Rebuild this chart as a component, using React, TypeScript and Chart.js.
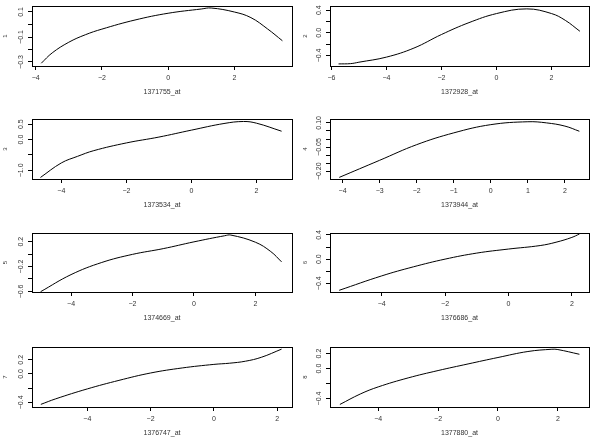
import React, { useEffect, useRef } from 'react';
import { Chart, registerables } from 'chart.js';

Chart.register(...registerables);

// ---------- data ----------
const probeNames = ['1371755_at', '1372928_at', '1373534_at', '1373944_at', '1374669_at', '1376686_at', '1376747_at', '1377880_at'];
const panelLabels = ['1', '2', '3', '4', '5', '6', '7', '8'];

const p1X = [-3.83, -3.5, -3, -2.5, -2, -1, 0, 1, 1.3, 2, 2.5, 3, 3.45];
const p1Y = [-0.31, -0.227, -0.142, -0.082, -0.037, 0.036, 0.09, 0.124, 0.132, 0.1, 0.055, -0.035, -0.13];
const p2X = [-5.74, -5.3, -5, -4, -3, -2, -1, 0, 1.1, 2, 2.5, 3.03];
const p2Y = [-0.55, -0.545, -0.52, -0.43, -0.27, -0.03, 0.18, 0.34, 0.423, 0.34, 0.22, 0.027];
const p3X = [-4.64, -4, -3.5, -3, -2, -1, 0, 1, 1.6, 2, 2.77];
const p3Y = [-1.23, -0.76, -0.545, -0.36, -0.11, 0.08, 0.305, 0.52, 0.585, 0.53, 0.27];
const p4X = [-4.09, -3, -2, -1, 0, 1, 1.5, 2, 2.39];
const p4Y = [-0.238, -0.132, -0.035, 0.038, 0.089, 0.107, 0.1, 0.08, 0.048];
const p5X = [-4.99, -4, -3, -2, -1, 0, 1, 1.2, 2, 2.5, 2.85];
const p5Y = [-0.604, -0.33, -0.135, -0.005, 0.087, 0.196, 0.294, 0.305, 0.19, 0.04, -0.125];
const p6X = [-5.34, -4, -3, -2, -1, 0, 1, 1.5, 2, 2.24];
const p6Y = [-0.517, -0.278, -0.128, 0.0, 0.1, 0.167, 0.225, 0.28, 0.36, 0.417];
const p7X = [-5.47, -5, -4, -3, -2, -1, 0, 0.5, 1, 1.5, 2.14];
const p7Y = [-0.428, -0.35, -0.21, -0.09, 0.014, 0.085, 0.135, 0.152, 0.18, 0.235, 0.35];
const p8X = [-5.28, -4.6, -4, -3, -2, -1, 0, 1, 1.8, 2, 2.72];
const p8Y = [-0.479, -0.34, -0.245, -0.125, -0.027, 0.061, 0.147, 0.227, 0.257, 0.253, 0.19];

// axis limits (x min/max, y min/max)
const xLimits = [[-4.11, 3.74], [-6.05, 3.36], [-4.9, 3.09], [-4.34, 2.65], [-5.27, 3.19], [-5.63, 2.54], [-5.75, 2.47], [-5.61, 3.04]];
const yLimits = [[-0.332, 0.148], [-0.587, 0.474], [-1.28, 0.666], [-0.248, 0.124], [-0.609, 0.338], [-0.545, 0.433], [-0.465, 0.38], [-0.513, 0.287]];

// ticks
const xTickValues = [
  [-4, -2, 0, 2],
  [-6, -4, -2, 0, 2],
  [-4, -2, 0, 2],
  [-4, -3, -2, -1, 0, 1, 2],
  [-4, -2, 0, 2],
  [-4, -2, 0, 2],
  [-4, -2, 0, 2],
  [-4, -2, 0, 2],
];
const yTickValues = [
  [-0.3, -0.2, -0.1, 0, 0.1],
  [-0.4, -0.2, 0, 0.2, 0.4],
  [-1.0, -0.5, 0, 0.5],
  [-0.2, -0.15, -0.1, -0.05, 0, 0.05, 0.1],
  [-0.6, -0.4, -0.2, 0, 0.2],
  [-0.4, -0.2, 0, 0.2, 0.4],
  [-0.4, -0.2, 0, 0.2],
  [-0.4, -0.2, 0, 0.2],
];
const yTickLabels = [
  ['−0.3', '', '−0.1', '', '0.1'],
  ['−0.4', '', '0.0', '', '0.4'],
  ['−1.0', '', '0.0', '0.5'],
  ['−0.20', '', '', '−0.05', '', '', '0.10'],
  ['−0.6', '', '−0.2', '', '0.2'],
  ['−0.4', '', '0.0', '', '0.4'],
  ['−0.4', '', '0.0', '0.2'],
  ['−0.4', '', '0.0', '0.2'],
];

const seriesX = [p1X, p2X, p3X, p4X, p5X, p6X, p7X, p8X];
const seriesY = [p1Y, p2Y, p3Y, p4Y, p5Y, p6Y, p7Y, p8Y];

// ---------- layout ----------
const FONT = "'Liberation Sans', Arial, Helvetica, sans-serif";
const TEXT = '#333';
const TICK_SIZE = 7;
const TICK_LEN = 4;
const rowBoxTop = [6, 119, 233, 347];
const rowBoxH = [60, 60, 59, 60];
const colBoxLeft = [32, 30];
const colBoxRight = [292, 289];
const BELOW = 38;

const fmtX = (v: number) => (v < 0 ? '−' + Math.abs(v) : String(v));

function Panel({ i }: { i: number }) {
  const ref = useRef<HTMLCanvasElement>(null);
  const col = i % 2;
  const row = Math.floor(i / 2);
  const canvasH = 6 + rowBoxH[row] + BELOW;

  useEffect(() => {
    const canvas = ref.current!;
    const c2 = canvas.getContext('2d')!;
    c2.font = `${TICK_SIZE}px ${FONT}`;
    const widest = Math.max(...yTickLabels[i].map((l) => c2.measureText(l).width));
    const yPad = 11 - TICK_LEN - widest / 2;

    const boxPlugin = {
      id: 'rbox',
      afterDraw(chart: any) {
        const { left, top, right, bottom } = chart.chartArea;
        const ctx = chart.ctx;
        ctx.save();
        ctx.strokeStyle = '#000';
        ctx.lineWidth = 1;
        ctx.strokeRect(Math.round(left) + 0.5, Math.round(top) + 0.5, Math.round(right - left), Math.round(bottom - top));
        ctx.restore();
      },
    };

    const grid = { display: true, drawOnChartArea: false, drawTicks: true, tickLength: TICK_LEN, tickColor: '#000', tickWidth: 1, color: '#000' };
    const border = { display: true, color: '#000', width: 1 };

    const chart = new Chart(canvas, {
      type: 'line',
      data: {
        datasets: [
          {
            data: seriesX[i].map((x, k) => ({ x, y: seriesY[i][k] })),
            borderColor: '#000',
            borderWidth: 1,
            pointRadius: 0,
            fill: false,
            tension: 0.4,
          },
        ],
      },
      options: {
        responsive: false,
        animation: false,
        devicePixelRatio: 1,
        layout: { padding: { top: 6, left: 0, bottom: 0, right: 300 - colBoxRight[col] } },
        plugins: { legend: { display: false }, tooltip: { enabled: false } },
        scales: {
          x: {
            type: 'linear',
            min: xLimits[i][0],
            max: xLimits[i][1],
            afterBuildTicks: (s: any) => {
              s.ticks = xTickValues[i].map((v) => ({ value: v }));
            },
            afterFit: (s: any) => {
              s.height = BELOW;
            },
            grid,
            border,
            ticks: {
              autoSkip: false,
              minRotation: 0,
              maxRotation: 0,
              padding: 3.8,
              color: TEXT,
              font: { size: TICK_SIZE, family: FONT },
              callback: (v: any) => fmtX(Number(v)),
            },
            title: {
              display: true,
              text: probeNames[i],
              color: TEXT,
              font: { size: TICK_SIZE, family: FONT },
              padding: { top: 0, bottom: 7.8 },
            },
          },
          y: {
            type: 'linear',
            min: yLimits[i][0],
            max: yLimits[i][1],
            afterBuildTicks: (s: any) => {
              s.ticks = yTickValues[i].map((v) => ({ value: v }));
            },
            afterFit: (s: any) => {
              s.width = colBoxLeft[col];
            },
            grid,
            border,
            ticks: {
              autoSkip: false,
              minRotation: 90,
              maxRotation: 90,
              crossAlign: 'center',
              padding: yPad,
              color: TEXT,
              font: { size: TICK_SIZE, family: FONT },
              callback: (_v: any, idx: number) => yTickLabels[i][idx],
            },
            title: {
              display: true,
              text: panelLabels[i],
              color: TEXT,
              font: { size: 6, family: FONT },
              padding: { top: 2, bottom: 0 },
            },
          },
        },
      } as any,
      plugins: [boxPlugin],
    });
    return () => chart.destroy();
  }, [i]);

  return (
    <canvas
      ref={ref}
      width={300}
      height={canvasH}
      style={{ position: 'absolute', left: col * 300, top: rowBoxTop[row] - 6, width: 300, height: canvasH }}
    />
  );
}

export default function App() {
  return (
    <div style={{ position: 'absolute', left: 0, top: 0, width: 600, height: 442, overflow: 'hidden', background: '#fff' }}>
      {probeNames.map((_, i) => (
        <Panel key={i} i={i} />
      ))}
    </div>
  );
}
